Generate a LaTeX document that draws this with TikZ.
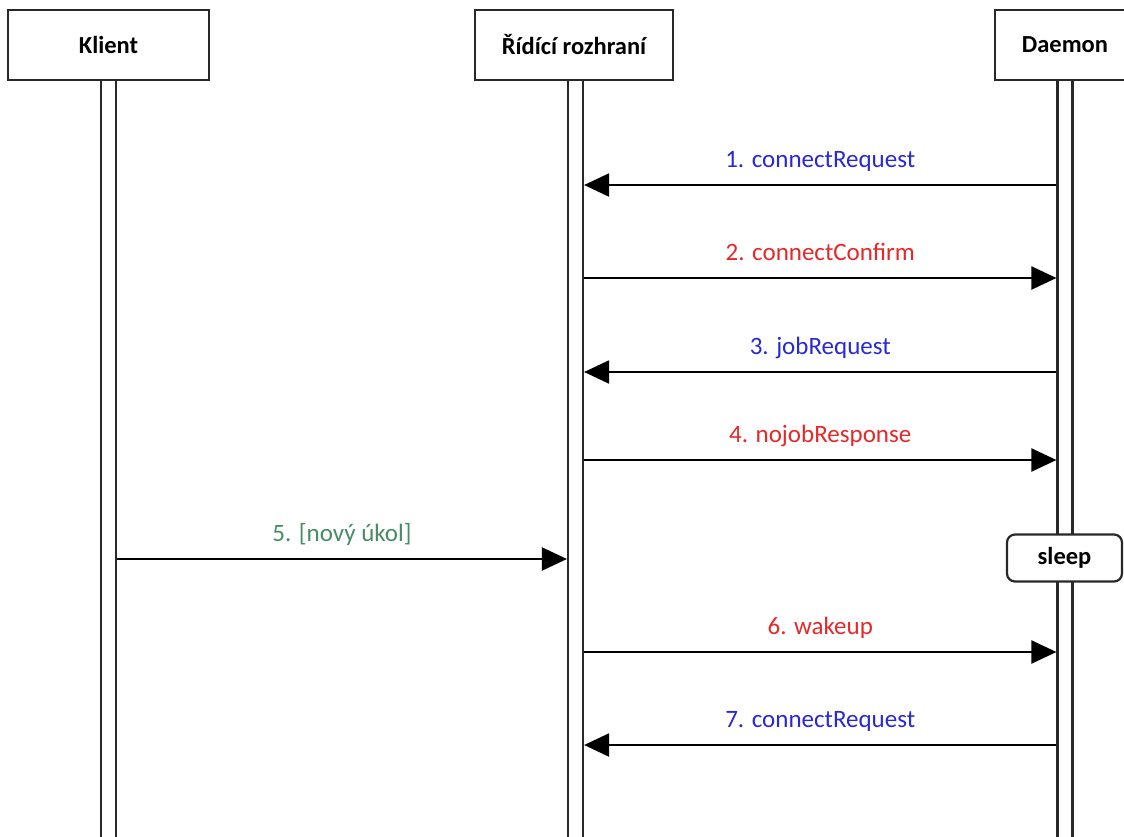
\documentclass[tikz,border=0pt]{standalone}
\usepackage{fontspec}
\setmainfont{Carlito}
\usetikzlibrary{arrows.meta}
\definecolor{msgblue}{RGB}{40,40,215}
\definecolor{msgred}{RGB}{230,40,40}
\definecolor{msggreen}{RGB}{70,140,100}
\definecolor{frame}{RGB}{40,40,40}
\begin{document}
\begin{tikzpicture}[x=1pt,y=-1pt,
  head/.style={draw=frame, line width=2.2pt, fill=white, minimum height=70pt, inner sep=0pt,
    font=\bfseries\fontsize{24.5}{28}\selectfont},
  lifeline/.style={draw=frame, line width=2.2pt, fill=white, minimum width=15pt, minimum height=780pt, inner sep=0pt},
  msg/.style={draw=black, line width=2.2pt, -{Triangle[length=25pt,width=23pt]}},
  lbl/.style={midway, anchor=base, yshift=18pt, font=\fontsize{25}{28}\selectfont},
  sleepbox/.style={draw=frame, line width=2.2pt, fill=white, rounded corners=8pt, minimum width=115pt, minimum height=47pt, inner sep=0pt,
    font=\bfseries\fontsize{24.5}{28}\selectfont}]
\useasboundingbox (0,0) rectangle (1124,836);
\clip (0,0) rectangle (1124,836);
\fill[white] (0,0) rectangle (1124,836);
% lifelines
\node[lifeline] (kl) at (108.5,470) {};
\node[lifeline] (rl) at (575.5,470) {};
\node[lifeline] (dl) at (1065,470) {};
% headers
\node[head, minimum width=201pt] (kh) at (108.5,45) {Klient};
\node[head, minimum width=198pt] (rh) at (574,45) {Řídící rozhraní};
\node[head, minimum width=140pt] (dh) at (1065,45) {Daemon};
% message rows
\coordinate (m1) at (0,185);
\coordinate (m2) at (0,278);
\coordinate (m3) at (0,372);
\coordinate (m4) at (0,460);
\coordinate (m5) at (0,559);
\coordinate (m6) at (0,652);
\coordinate (m7) at (0,745);
\draw[msg] (dl.west |- m1) -- (rl.east |- m1) node[lbl, text=msgblue] {1. connectRequest};
\draw[msg] (rl.east |- m2) -- (dl.west |- m2) node[lbl, text=msgred] {2. connectConfirm};
\draw[msg] (dl.west |- m3) -- (rl.east |- m3) node[lbl, text=msgblue] {3. jobRequest};
\draw[msg] (rl.east |- m4) -- (dl.west |- m4) node[lbl, text=msgred] {4. nojobResponse};
\draw[msg] (kl.east |- m5) -- (rl.west |- m5) node[lbl, text=msggreen] {5. [nový úkol]};
\node[sleepbox] (sl) at (1064.5,558) {sleep};
\draw[msg] (rl.east |- m6) -- (dl.west |- m6) node[lbl, text=msgred] {6. wakeup};
\draw[msg] (dl.west |- m7) -- (rl.east |- m7) node[lbl, text=msgblue] {7. connectRequest};
\end{tikzpicture}
\end{document}
